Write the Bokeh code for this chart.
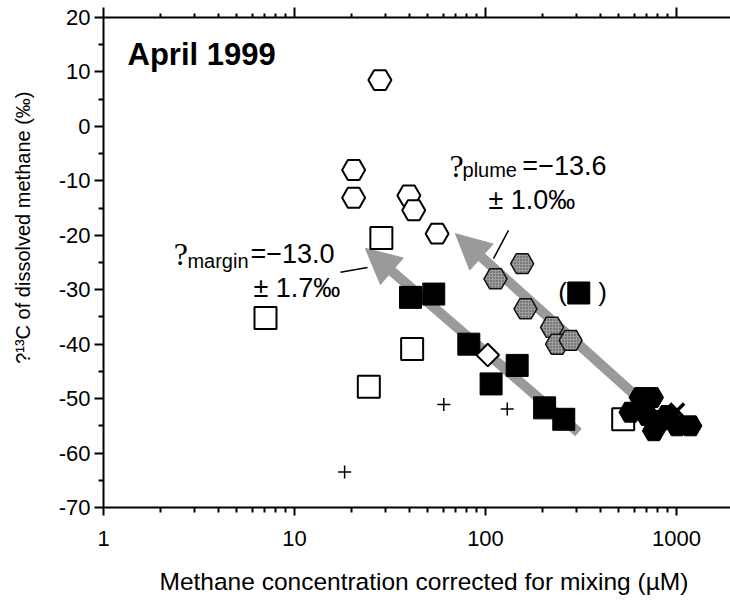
from bokeh.plotting import figure
from bokeh.models import (Range1d, LogAxis, LinearAxis, FixedTicker, Label, Arrow,
                          NormalHead, PrintfTickFormatter, Title)
from bokeh.embed import file_html
from bokeh.resources import INLINE

# ---- data: methane concentration (uM) vs d13C of dissolved methane (permil) ----
open_hex_x = [28.0, 20.4, 20.4, 39.7, 42.1, 55.8]
open_hex_y = [8.5, -8.0, -13.1, -12.7, -15.4, -19.7]

open_sq_x = [7.05, 28.5, 24.5, 41.3, 526.0]
open_sq_y = [-35.2, -20.5, -47.8, -40.9, -53.8]

black_sq_x = [40.5, 53.6, 81.8, 146.5, 107.0, 204.0, 257.0]
black_sq_y = [-31.4, -30.8, -40.0, -43.9, -47.3, -51.7, -53.8]

# sample shown in parentheses
paren_sq_x = [308.0]
paren_sq_y = [-30.6]

gray_hex_x = [155.6, 112.8, 162.0, 223.0, 237.0, 279.0]
gray_hex_y = [-25.2, -28.0, -33.5, -36.9, -40.0, -39.3]

black_hex_x = [648.0, 745.0, 574.0, 702.0, 761.0, 825.0, 893.0, 1007.0, 1183.0]
black_hex_y = [-49.8, -49.8, -52.5, -53.1, -55.9, -54.0, -53.1, -55.0, -55.0]

diamond_x = [102.8]
diamond_y = [-42.0]

plus_x = [18.3, 60.5, 130.0]
plus_y = [-63.5, -51.1, -51.9]

cross_x = [1007.0]
cross_y = [-52.2]

# oxidation trend arrows (start -> end, data space)
margin_arrow = dict(x_start=307.0, y_start=-56.2, x_end=23.5, y_end=-22.4)
plume_arrow = dict(x_start=595.0, y_start=-49.1, x_end=69.6, y_end=-19.7)

x_major = [1, 10, 100, 1000]
x_minor = [m * d for d in (1, 10, 100, 1000) for m in range(2, 10)]
y_major = list(range(-70, 30, 10))
y_minor = list(range(-65, 20, 10))

FONT = "Liberation Sans"
ARROW_GRAY = "#9a9a9a"

p = figure(width=730, height=602, x_axis_type="log",
           x_range=Range1d(1, 1918), y_range=Range1d(-70, 20),
           output_backend="svg", toolbar_location=None,
           min_border_left=103, min_border_right=0,
           min_border_top=17, min_border_bottom=95)
p.grid.visible = False
p.outline_line_color = None
p.background_fill_color = "white"
p.border_fill_color = "white"


def style_ticks(ax, major_out, minor_out):
    ax.axis_line_width = 2
    ax.major_tick_line_width = 2
    ax.minor_tick_line_width = 2
    ax.major_tick_out = major_out
    ax.major_tick_in = 0
    ax.minor_tick_out = minor_out
    ax.minor_tick_in = 0


# bottom axis
xa = p.xaxis[0]
xa.ticker = FixedTicker(ticks=x_major, minor_ticks=x_minor)
xa.formatter = PrintfTickFormatter(format="%d")
style_ticks(xa, 8, 5)
xa.major_label_standoff = 15
xa.major_label_text_font = FONT
xa.major_label_text_font_size = "22px"
xa.major_label_text_color = "black"

# left axis
ya = p.yaxis[0]
ya.ticker = FixedTicker(ticks=y_major, minor_ticks=y_minor)
ya.formatter = PrintfTickFormatter(format="%d")
style_ticks(ya, 9, 5)
ya.major_label_standoff = 4
ya.major_label_text_font = FONT
ya.major_label_text_font_size = "22px"
ya.major_label_text_color = "black"

# top axis: ticks only
top = LogAxis(ticker=FixedTicker(ticks=x_major, minor_ticks=x_minor),
              major_label_overrides={v: "" for v in x_major},
              major_label_text_font_size="0px", major_label_standoff=0)
style_ticks(top, 10, 4)
p.add_layout(top, "above")


def gap_axis(cls, tick, depth):
    # an unlabeled, white-on-white axis used only to reserve space
    return cls(ticker=FixedTicker(ticks=[tick], minor_ticks=[]),
               major_label_overrides={tick: ""}, major_label_text_font_size="0px",
               major_label_standoff=0, axis_line_color=None,
               major_tick_line_color="white", minor_tick_line_color=None,
               major_tick_out=depth, major_tick_in=0, minor_tick_out=0,
               minor_tick_in=0)


p.add_layout(gap_axis(LogAxis, 2, 19), "below")
p.add_layout(gap_axis(LinearAxis, 0, 20), "left")

# axis titles
p.add_layout(Title(text="Methane concentration corrected for mixing (\u00b5M)",
                   align="left", offset=56, standoff=0, vertical_align="top",
                   text_font=FONT, text_font_size="24.5px", text_font_style="normal",
                   text_color="black"), "below")
p.add_layout(Title(text="?\u00b9\u00b3C of dissolved methane (\u2030)",
                   align="right", offset=74, standoff=0, vertical_align="top",
                   text_font=FONT, text_font_size="20px", text_font_style="normal",
                   text_color="black"), "left")

# trend arrows, drawn beneath the markers
for spec in (margin_arrow, plume_arrow):
    arr = Arrow(end=NormalHead(size=35, fill_color=ARROW_GRAY, line_color=ARROW_GRAY,
                               line_width=1),
                start=None, line_color=ARROW_GRAY, line_width=10, level="underlay",
                **spec)
    p.add_layout(arr)

# leader lines from the slope labels to the arrows
p.segment(x0=[17.4, 131.9], y0=[-26.8, -19.1], x1=[24.1, 110.1], y1=[-25.9, -24.3],
          line_color="black", line_width=1.5)

# markers
p.scatter(plus_x, plus_y, marker="cross", size=13, line_color="black", line_width=1.5)
p.scatter(open_hex_x, open_hex_y, marker="hex", size=23,
          fill_color="white", line_color="black", line_width=2)
p.scatter(open_sq_x, open_sq_y, marker="square", size=22,
          fill_color="white", line_color="black", line_width=2)
p.scatter(black_sq_x, black_sq_y, marker="square", size=22,
          fill_color="black", line_color="black", line_width=1)
p.scatter(paren_sq_x, paren_sq_y, marker="square", size=22,
          fill_color="black", line_color="black", line_width=1)
p.scatter(diamond_x, diamond_y, marker="square", angle=0.785398, size=16,
          fill_color="white", line_color="black", line_width=2)
p.scatter(gray_hex_x, gray_hex_y, marker="hex", size=23,
          fill_color="#9e9e9e", hatch_pattern="dot", hatch_color="#3a3a3a",
          hatch_scale=3, hatch_weight=1, line_color="#111111", line_width=1.5)
p.scatter(black_hex_x, black_hex_y, marker="hex", size=23,
          fill_color="black", line_color="black", line_width=1)
p.scatter(cross_x, cross_y, marker="x", size=20, line_color="black", line_width=3.5)


def lab(x, y, text, size, units="data", font=FONT, style="normal", align="left"):
    p.add_layout(Label(x=x, y=y, x_units=units, y_units=units, text=text,
                       text_font=font, text_font_size=size, text_font_style=style,
                       text_align=align, text_baseline="middle", text_color="black"))


# panel title
lab(24, 453, "April 1999", "31px", units="screen", style="bold")

# slope labels
lab(2.33, -23.5, "?", "32px", font="Liberation Serif")
lab(2.75, -24.8, "margin", "20px")
lab(5.88, -23.5, "=\u221213.0", "27px")
lab(6.10, -29.6, "\u00b1 1.7\u2030", "27px")

lab(64.8, -7.35, "?", "32px", font="Liberation Serif")
lab(75.8, -8.1, "plume", "20px")
lab(156.0, -7.35, "=\u221213.6", "27px")
lab(103.7, -13.6, "\u00b1 1.0\u2030", "27px")

# parentheses around the excluded sample
lab(253.0, -30.5, "(", "26px", align="center")
lab(410.0, -30.5, ")", "26px", align="center")

open("out.html", "w").write(file_html(p, INLINE))
